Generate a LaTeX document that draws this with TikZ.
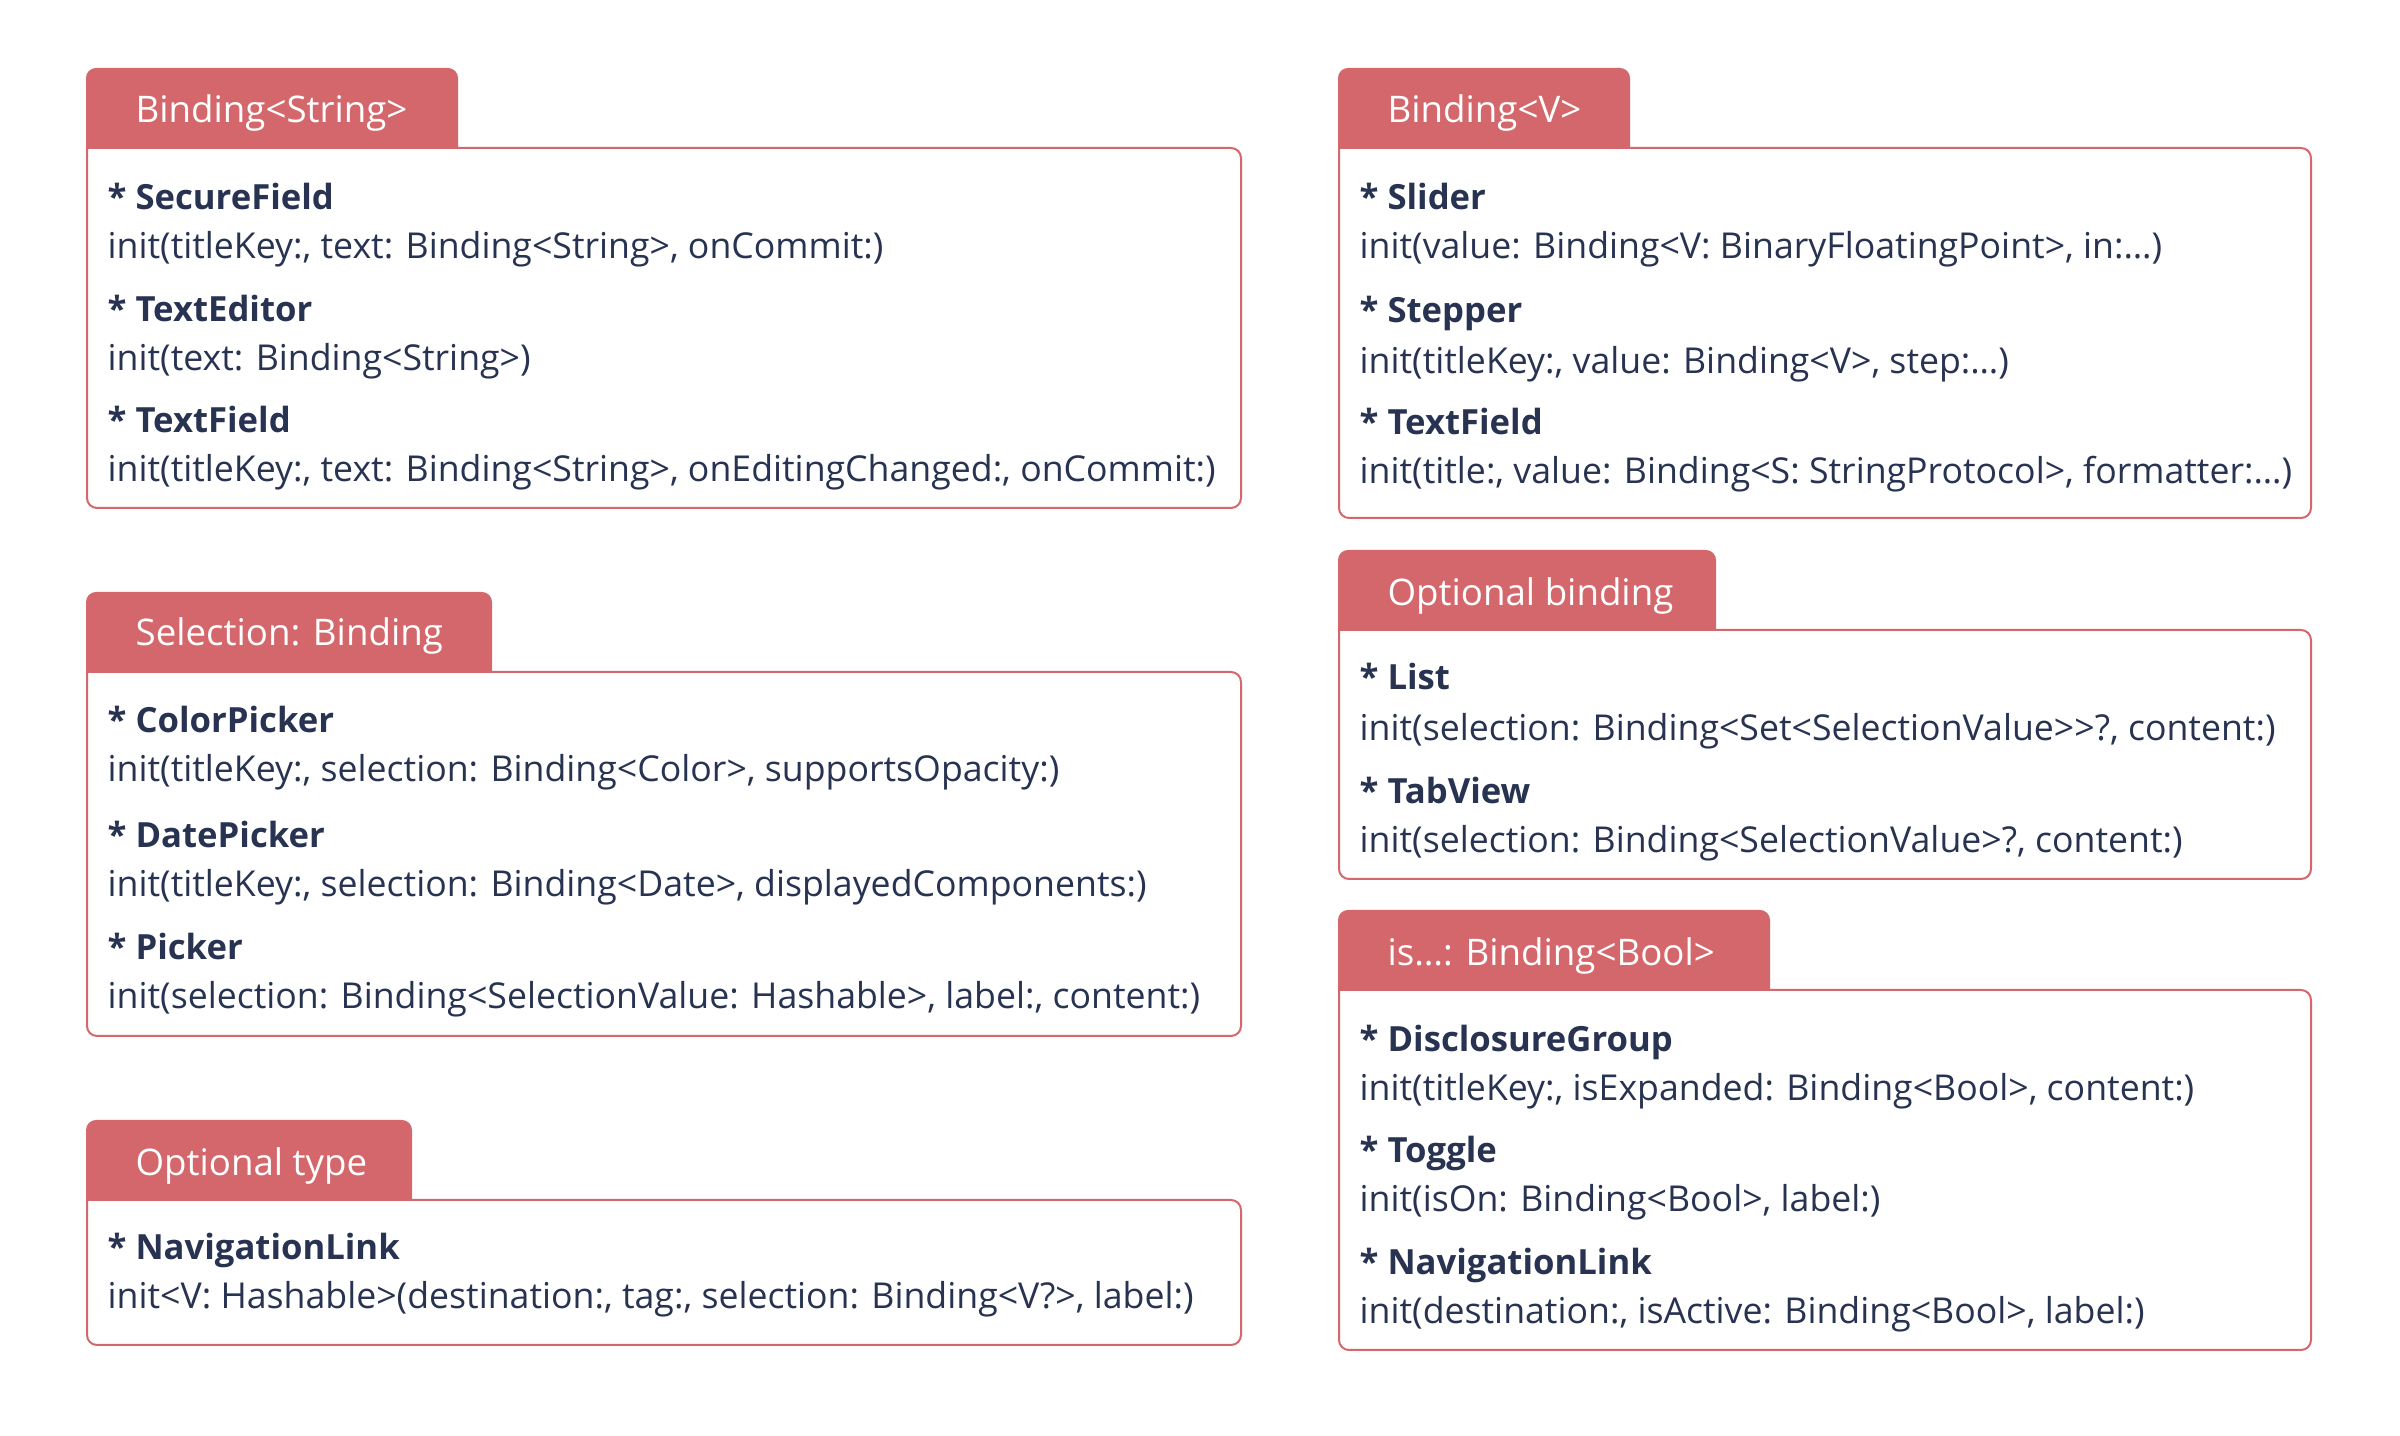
\documentclass[tikz,border=0pt]{standalone}
\usepackage{fontspec}
\setmainfont{Open Sans}
\definecolor{tabred}{HTML}{D4676B}
\definecolor{ink}{HTML}{283352}
\tikzset{
  ttl/.style={anchor=base west, inner sep=0pt, yshift=-0.5pt, text=white, font=\fontsize{11}{12}\selectfont},
  nm/.style={anchor=base west, inner sep=0pt, yshift=-0.5pt, text=ink, font=\bfseries\fontsize{10.4}{12}\selectfont},
  sig/.style={anchor=base west, inner sep=0pt, yshift=-0.5pt, text=ink, font=\fontsize{10.7}{12}\selectfont},
  frame/.style={draw=tabred, line width=0.6pt, rounded corners=3pt},
  tabfill/.style={fill=tabred, rounded corners=3pt},
}
\newcommand\cardframe[6]{% x1, ytab, xtab, ybody, x2, ybot
  \draw[frame] (#1,#4) -- (#5,#4) -- (#5,#6) -- (#1,#6) -- (#1,#4);
  \fill[tabfill] (#1-1,#4+1) -- (#1-1,#2) -- (#3,#2) -- (#3,#4+1);
}
\begin{document}
\begin{tikzpicture}[x=0.3pt,y=-0.3pt]
\useasboundingbox[fill=white] (0,0) rectangle (2400,1436);

% Box 1
\cardframe{87}{68}{458}{148}{1241}{508}
\node[ttl] (t1) at (135,121) {Binding<String>};
\node[nm]  (n11) at (107,208) {* SecureField};
\node[sig] (s11) at (107,257) {init(titleKey:, text: Binding<String>, onCommit:)};
\node[nm]  (n12) at (107,320) {* TextEditor};
\node[sig] (s12) at (107,369) {init(text: Binding<String>)};
\node[nm]  (n13) at (107,431) {* TextField};
\node[sig] (s13) at (107,480) {init(titleKey:, text: Binding<String>, onEditingChanged:, onCommit:)};

% Box 2
\cardframe{87}{592}{492}{672}{1241}{1036}
\node[ttl] (t2) at (135,644) {Selection: Binding};
\node[nm]  (n21) at (107,731) {* ColorPicker};
\node[sig] (s21) at (107,780) {init(titleKey:, selection: Binding<Color>, supportsOpacity:)};
\node[nm]  (n22) at (107,846) {* DatePicker};
\node[sig] (s22) at (107,895) {init(titleKey:, selection: Binding<Date>, displayedComponents:)};
\node[nm]  (n23) at (107,958) {* Picker};
\node[sig] (s23) at (107,1007) {init(selection: Binding<SelectionValue: Hashable>, label:, content:)};

% Box 3
\cardframe{87}{1120}{412}{1200}{1241}{1345}
\node[ttl] (t3) at (135,1174) {Optional type};
\node[nm]  (n31) at (107,1258) {* NavigationLink};
\node[sig] (s31) at (107,1307) {init<V: Hashable>(destination:, tag:, selection: Binding<V?>, label:)};

% Box 4
\cardframe{1339}{68}{1630}{148}{2311}{518}
\node[ttl] (t4) at (1387,121) {Binding<V>};
\node[nm]  (n41) at (1359,208) {* Slider};
\node[sig] (s41) at (1359,257) {init(value: Binding<V: BinaryFloatingPoint>, in:…)};
\node[nm]  (n42) at (1359,321) {* Stepper};
\node[sig] (s42) at (1359,372) {init(titleKey:, value: Binding<V>, step:…)};
\node[nm]  (n43) at (1359,433) {* TextField};
\node[sig] (s43) at (1359,482) {init(title:, value: Binding<S: StringProtocol>, formatter:…)};

% Box 5
\cardframe{1339}{550}{1716}{630}{2311}{879}
\node[ttl] (t5) at (1387,604) {Optional binding};
\node[nm]  (n51) at (1359,688) {* List};
\node[sig] (s51) at (1359,739) {init(selection: Binding<Set<SelectionValue>\kern0pt>?, content:)};
\node[nm]  (n52) at (1359,802) {* TabView};
\node[sig] (s52) at (1359,851) {init(selection: Binding<SelectionValue>?, content:)};

% Box 6
\cardframe{1339}{910}{1770}{990}{2311}{1350}
\node[ttl] (t6) at (1387,964) {is…: Binding<Bool>};
\node[nm]  (n61) at (1359,1050) {* DisclosureGroup};
\node[sig] (s61) at (1359,1099) {init(titleKey:, isExpanded: Binding<Bool>, content:)};
\node[nm]  (n62) at (1359,1161) {* Toggle};
\node[sig] (s62) at (1359,1210) {init(isOn: Binding<Bool>, label:)};
\node[nm]  (n63) at (1359,1273) {* NavigationLink};
\node[sig] (s63) at (1359,1322) {init(destination:, isActive: Binding<Bool>, label:)};
\end{tikzpicture}
\end{document}
